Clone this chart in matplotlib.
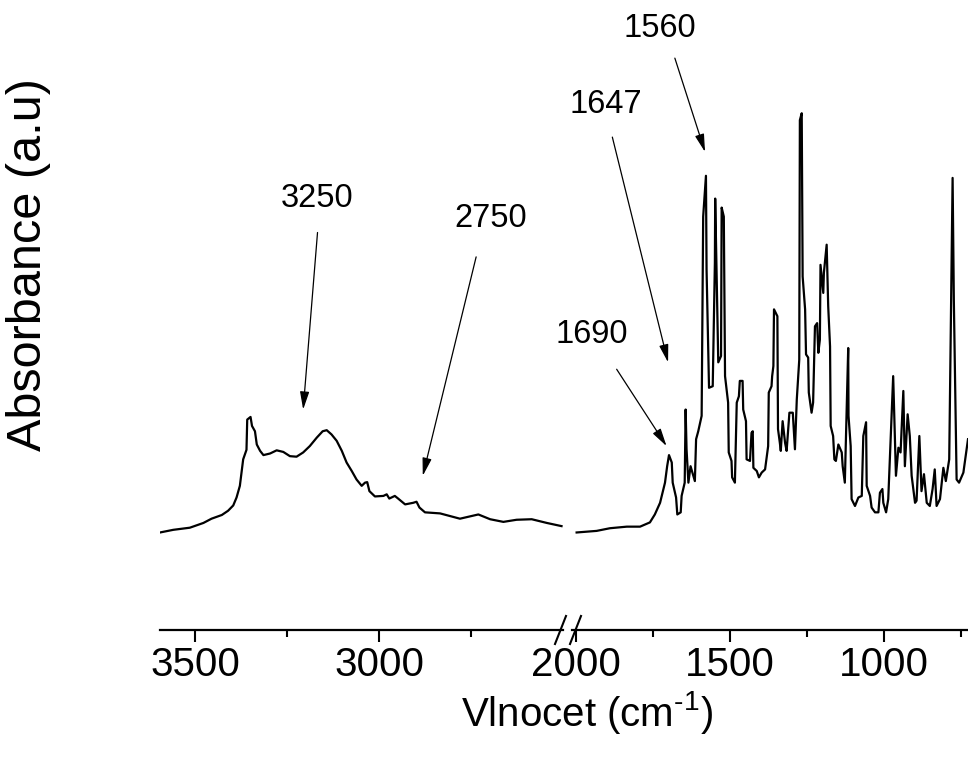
import matplotlib.pyplot as plt
from matplotlib.lines import Line2D

plt.rcParams['font.family'] = ['Liberation Sans', 'DejaVu Sans']
plt.rcParams['mathtext.fontset'] = 'custom'
plt.rcParams['mathtext.rm'] = 'Liberation Sans'

# high wavenumber part (left of the break)
wn_high = [3595, 3559, 3514, 3477, 3455, 3427, 3410, 3396, 3387, 3378, 3369, 3360,
           3358, 3349, 3345, 3337, 3332, 3323, 3314, 3296, 3278, 3260, 3242, 3224,
           3206, 3188, 3169, 3153, 3142, 3129, 3115, 3101, 3088, 3074, 3061, 3047,
           3038, 3032, 3026, 3011, 2988, 2979, 2972, 2957, 2948, 2929, 2907, 2898,
           2890, 2875, 2834, 2780, 2730, 2698, 2662, 2626, 2585, 2544, 2504]
abs_high = [0.184, 0.189, 0.193, 0.202, 0.210, 0.217, 0.225, 0.235, 0.250, 0.272, 0.322, 0.340,
            0.397, 0.402, 0.385, 0.375, 0.350, 0.338, 0.330, 0.333, 0.339, 0.336, 0.328, 0.327,
            0.335, 0.347, 0.363, 0.375, 0.377, 0.369, 0.357, 0.338, 0.316, 0.300, 0.284, 0.272,
            0.278, 0.279, 0.262, 0.252, 0.253, 0.256, 0.248, 0.253, 0.248, 0.237, 0.240, 0.242,
            0.231, 0.222, 0.220, 0.210, 0.218, 0.209, 0.204, 0.208, 0.209, 0.202, 0.196]

# fingerprint part (right of the break)
wn_low = [1998, 1933, 1890, 1835, 1792, 1760, 1744, 1727, 1711, 1704, 1698, 1689,
          1686, 1675, 1671, 1660, 1657, 1647, 1644, 1641, 1635, 1628, 1619, 1614,
          1610, 1603, 1592, 1587, 1578, 1576, 1568, 1556, 1549, 1548, 1538, 1529,
          1527, 1520, 1516, 1506, 1504, 1495, 1493, 1484, 1478, 1471, 1468, 1459,
          1457, 1448, 1446, 1435, 1430, 1426, 1424, 1413, 1406, 1397, 1386, 1376,
          1374, 1365, 1363, 1359, 1357, 1346, 1344, 1338, 1335, 1329, 1321, 1316,
          1307, 1296, 1289, 1283, 1275, 1273, 1267, 1264, 1256, 1253, 1246, 1244,
          1235, 1230, 1224, 1217, 1213, 1208, 1206, 1197, 1195, 1186, 1181, 1175,
          1173, 1165, 1161, 1156, 1148, 1137, 1134, 1127, 1116, 1115, 1108, 1105,
          1094, 1083, 1072, 1067, 1058, 1056, 1045, 1040, 1029, 1018, 1013, 1005,
          1002, 993, 986, 970, 961, 953, 946, 937, 932, 923, 916, 910,
          899, 894, 885, 878, 870, 861, 851, 842, 835, 829, 818, 807,
          799, 788, 777, 773, 764, 756, 742, 727]
abs_low = [0.184, 0.187, 0.192, 0.195, 0.195, 0.203, 0.218, 0.240, 0.278, 0.309, 0.330, 0.316,
           0.278, 0.250, 0.218, 0.222, 0.253, 0.278, 0.416, 0.341, 0.278, 0.309, 0.291, 0.281,
           0.360, 0.375, 0.404, 0.780, 0.857, 0.680, 0.457, 0.460, 0.693, 0.814, 0.505, 0.517,
           0.797, 0.780, 0.479, 0.429, 0.335, 0.319, 0.288, 0.278, 0.429, 0.441, 0.470, 0.470,
           0.416, 0.394, 0.322, 0.319, 0.372, 0.375, 0.306, 0.300, 0.288, 0.297, 0.303, 0.347,
           0.448, 0.460, 0.479, 0.498, 0.605, 0.592, 0.379, 0.353, 0.338, 0.394, 0.353, 0.338,
           0.410, 0.410, 0.341, 0.435, 0.510, 0.962, 0.975, 0.667, 0.605, 0.520, 0.514, 0.448,
           0.410, 0.429, 0.573, 0.579, 0.523, 0.548, 0.689, 0.636, 0.674, 0.727, 0.611, 0.535,
           0.385, 0.366, 0.322, 0.319, 0.350, 0.335, 0.309, 0.278, 0.532, 0.404, 0.347, 0.247,
           0.234, 0.250, 0.253, 0.366, 0.392, 0.272, 0.253, 0.231, 0.222, 0.222, 0.259, 0.266,
           0.240, 0.222, 0.247, 0.479, 0.291, 0.344, 0.335, 0.451, 0.309, 0.407, 0.366, 0.291,
           0.240, 0.244, 0.366, 0.262, 0.294, 0.240, 0.234, 0.266, 0.303, 0.234, 0.247, 0.306,
           0.281, 0.322, 0.853, 0.623, 0.284, 0.278, 0.297, 0.360]

# peak annotations: label, panel, text position, arrow start, arrow tip
peak_labels = ['3250', '2750', '1690', '1647', '1560']
peak_panel = ['high', 'high', 'low', 'low', 'low']
text_wn = [3168, 2696, 1948, 1903, 1727]
text_abs = [0.814, 0.776, 0.557, 0.992, 1.134]
arrow_from_wn = [3167, 2736, 1868, 1882, 1679]
arrow_from_abs = [0.750, 0.704, 0.492, 0.930, 1.079]
arrow_to_wn = [3206, 2881, 1706, 1701, 1581]
arrow_to_abs = [0.416, 0.291, 0.347, 0.505, 0.902]

W, H = 968, 760
fig = plt.figure(figsize=(W / 100, H / 100), dpi=100)

bottom = 630
top = 100
ax1 = fig.add_axes([160 / W, 1 - bottom / H, (563 - 160) / W, (bottom - top) / H])
ax2 = fig.add_axes([572 / W, 1 - bottom / H, (W - 572) / W, (bottom - top) / H])

ax1.plot(wn_high, abs_high, color='black', lw=1.6)
ax2.plot(wn_low, abs_low, color='black', lw=1.6)

ax1.set_xlim(3595, 2500)
ax2.set_xlim(2013, 727)
ax1.set_xticks([3500, 3000])
ax1.set_xticks([3250, 2750], minor=True)
ax2.set_xticks([2000, 1500, 1000])
ax2.set_xticks([1750, 1250, 750], minor=True)

for ax in (ax1, ax2):
    ax.set_ylim(0, 1)
    for side in ('top', 'left', 'right'):
        ax.spines[side].set_visible(False)
    ax.spines['bottom'].set_linewidth(1.6)
    ax.set_yticks([])
    ax.tick_params(axis='x', which='major', direction='out', length=8.5, width=1.5,
                   labelsize=29, pad=3)
    ax.tick_params(axis='x', which='minor', direction='out', length=5, width=1.5)
    ax.patch.set_alpha(0)

panels = {'high': ax1, 'low': ax2}
for i, lab in enumerate(peak_labels):
    ax = panels[peak_panel[i]]
    ax.text(text_wn[i], text_abs[i], lab, fontsize=23.5, ha='center', va='center',
            clip_on=False)
    ax.annotate('', xy=(arrow_to_wn[i], arrow_to_abs[i]),
                xytext=(arrow_from_wn[i], arrow_from_abs[i]),
                arrowprops=dict(arrowstyle='-|>,head_length=0.54,head_width=0.14',
                                mutation_scale=20, color='black', lw=0.9,
                                shrinkA=0, shrinkB=0),
                annotation_clip=False)

# axis break marks
for x0 in (555, 570):
    fig.add_artist(Line2D([x0 / W, (x0 + 11) / W], [1 - 644 / H, 1 - 616 / H],
                          transform=fig.transFigure, color='black', lw=1.5))

fig.text(587 / W, 1 - 712 / H, 'Vlnocet (cm$^{\\text{-}1}$)', fontsize=29,
         ha='center', va='center')
fig.text(29 / W, 1 - 265 / H, 'Absorbance (a.u)', fontsize=35, rotation=90,
         ha='center', va='center')

fig.savefig('out.png', dpi=100)
